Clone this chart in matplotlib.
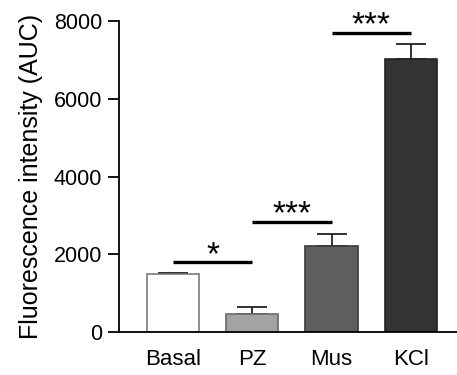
import numpy as np
import matplotlib
matplotlib.use("Agg")
import matplotlib.pyplot as plt

plt.rcParams['font.family'] = ['Liberation Sans', 'DejaVu Sans']

# data
groups = ["Basal", "PZ", "Mus", "KCl"]
means = [1500, 480, 2225, 7030]
sems = [30, 180, 310, 390]
fill_colors = ["#ffffff", "#a3a3a3", "#5f5f5f", "#333333"]
edge_colors = ["#7a7a7a", "#6a6a6a", "#3a3a3a", "#222222"]

# significance brackets: (left group, right group, height, label)
sig = [(0, 1, 1800, "*"), (1, 2, 2840, "***"), (2, 3, 7690, "***")]

fig = plt.figure(figsize=(4.57, 3.75), dpi=100)
ax = fig.add_axes([119 / 457, 42.7 / 375, 1 - 119 / 457, (332.3 - 21) / 375])

x = np.arange(len(groups))
ax.bar(x, means, width=0.66, color=fill_colors, edgecolor=edge_colors, linewidth=1.2, zorder=2)
ax.errorbar(x, means, yerr=[np.zeros(len(sems)), sems], fmt="none", ecolor="#222222",
            elinewidth=1.3, capsize=11, capthick=1.3, zorder=1)

for a, b, h, lab in sig:
    ax.plot([x[a], x[b]], [h, h], color="black", lw=2.4, solid_capstyle="butt", clip_on=False)
    ax.text((x[a] + x[b]) / 2, h - 40, lab, ha="center", va="baseline", fontsize=24,
            clip_on=False)

ax.set_xlim(-0.68, 3.58)
ax.set_ylim(0, 8000)
ax.set_yticks([0, 2000, 4000, 6000, 8000])
ax.set_xticks(x)
ax.set_xticklabels(groups)
ax.set_ylabel("Fluorescence intensity (AUC)", fontsize=18, labelpad=8)

for s in ["top", "right"]:
    ax.spines[s].set_visible(False)
ax.spines["left"].set_linewidth(1.3)
ax.spines["bottom"].set_linewidth(1.3)
ax.tick_params(axis="y", length=8, width=1.3, labelsize=15.5, pad=4)
ax.tick_params(axis="x", length=0, labelsize=16, pad=12)

fig.savefig("out.png", dpi=100)
